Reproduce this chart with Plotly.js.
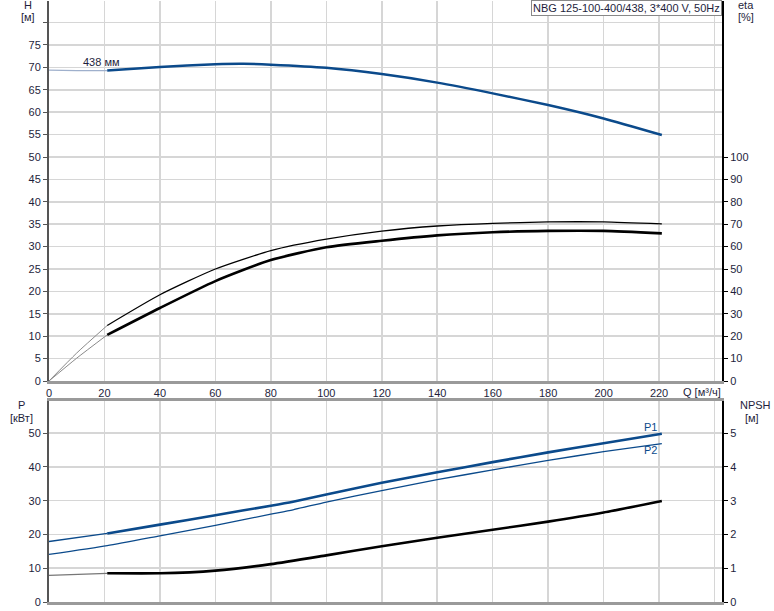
<!DOCTYPE html>
<html>
<head>
<meta charset="utf-8">
<script src="https://cdn.plot.ly/plotly-3.0.1.min.js"></script>
<style>html,body{margin:0;padding:0;background:#fff;}#chart{width:774px;height:611px;}</style>
</head>
<body>
<div id="chart"></div>
<script>
// ---- data ----
const qTicks = [0, 20, 40, 60, 80, 100, 120, 140, 160, 180, 200, 220, 240];
const qTickText = ['0', '20', '40', '60', '80', '100', '120', '140', '160', '180', '200', '220', ''];
const hTicks = [0, 5, 10, 15, 20, 25, 30, 35, 40, 45, 50, 55, 60, 65, 70, 75, 80];
const hTickText = ['0', '5', '10', '15', '20', '25', '30', '35', '40', '45', '50', '55', '60', '65', '70', '75', ''];
const etaTicks = [0, 10, 20, 30, 40, 50, 60, 70, 80, 90, 100];
const pTicks = [0, 10, 20, 30, 40, 50];
const npshTicks = [0, 1, 2, 3, 4, 5];

const qH = [0, 10, 21, 40, 60, 70, 80, 100, 120, 140, 160, 180, 200, 221];
const headH = [69.4, 69.3, 69.3, 70.1, 70.7, 70.8, 70.6, 69.9, 68.5, 66.6, 64.2, 61.6, 58.6, 54.9];

const qEta = [0, 10, 21, 40, 60, 80, 100, 120, 140, 160, 180, 200, 221];
const etaPump = [0, 12.5, 24.8, 38.5, 50.0, 58.2, 63.3, 66.9, 69.2, 70.4, 71.0, 71.0, 70.1];
const etaTotal = [0, 10.2, 20.6, 32.6, 44.6, 54.0, 59.7, 62.6, 65.0, 66.4, 67.0, 67.0, 65.9];

const qP = [0, 21, 40, 60, 80, 88, 100, 120, 140, 160, 180, 200, 221];
const powerP1 = [17.9, 20.3, 22.9, 25.7, 28.5, 29.7, 31.8, 35.3, 38.4, 41.4, 44.3, 47.0, 49.8];
const powerP2 = [14.1, 16.7, 19.6, 22.7, 26.0, 27.3, 29.6, 33.0, 36.2, 39.1, 41.9, 44.5, 46.9];

const qN = [0, 21, 40, 60, 80, 100, 120, 140, 160, 180, 200, 221];
const npsh = [0.79, 0.85, 0.85, 0.93, 1.12, 1.38, 1.65, 1.90, 2.14, 2.38, 2.65, 2.99];

const curveLabel = '438 мм';
const titleText = 'NBG 125-100-400/438, 3*400 V, 50Hz';
const splitQ = 21;

// ---- helpers ----
function seg(q, v, lo, hi) {
  const x = [], y = [];
  q.forEach((qq, i) => { if (qq >= lo && qq <= hi) { x.push(qq); y.push(v[i]); } });
  return {x, y};
}
function tr(q, v, lo, hi, xa, ya, color, width) {
  const s = seg(q, v, lo, hi);
  return {x: s.x, y: s.y, xaxis: xa, yaxis: ya, mode: 'lines', type: 'scatter',
    line: {color: color, width: width, shape: 'spline', smoothing: 0.6}, hoverinfo: 'skip', showlegend: false};
}
const BLUE = '#0b4a8b';
const L = 49, R = 722, T = 1, B = 602;
const px = x => (x - L) / (R - L);
const py = y => (B - y) / (B - T);

const data = [
  tr(qH, headH, 0, splitQ, 'x', 'y', '#9fb0cc', 1.2),
  tr(qH, headH, splitQ, 999, 'x', 'y', BLUE, 2.5),
  tr(qEta, etaPump, 0, splitQ, 'x', 'y2', '#8a8a8a', 1),
  tr(qEta, etaPump, splitQ, 999, 'x', 'y2', '#000', 1.3),
  tr(qEta, etaTotal, 0, splitQ, 'x', 'y2', '#8a8a8a', 1),
  tr(qEta, etaTotal, splitQ, 999, 'x', 'y2', '#000', 2.6),
  tr(qP, powerP1, 0, splitQ, 'x2', 'y3', BLUE, 1.3),
  tr(qP, powerP1, splitQ, 999, 'x2', 'y3', BLUE, 2.6),
  tr(qP, powerP2, 0, 999, 'x2', 'y3', BLUE, 1.3),
  tr(qN, npsh, 0, splitQ, 'x2', 'y4', '#777', 1.2),
  tr(qN, npsh, splitQ, 999, 'x2', 'y4', '#000', 2.6)
];

const FONT = {family: '"Liberation Sans", Arial, sans-serif', size: 11, color: '#1e1e3c'};
const GRID = '#d6d6d6';
const xr = [0, 242.7];

const layout = {
  width: 774, height: 611,
  margin: {l: L, r: 774 - R, t: T, b: 611 - B, pad: 0},
  paper_bgcolor: '#fff', plot_bgcolor: '#fff',
  font: FONT, showlegend: false,
  xaxis: {domain: [0, 1], anchor: 'y', range: xr, tickvals: qTicks, ticktext: qTickText,
    showgrid: true, gridcolor: GRID, gridwidth: 1.5, zeroline: false,
    showline: true, linecolor: '#9a9a9a', linewidth: 3, ticks: '', tickfont: FONT},
  yaxis: {domain: [py(381), 1], anchor: 'x', range: [0, 84.82], tickvals: hTicks, ticktext: hTickText,
    showgrid: true, gridcolor: GRID, gridwidth: 1.5, zeroline: false,
    showline: true, linecolor: '#555', linewidth: 2, ticks: 'outside', ticklen: 4, tickcolor: '#555', tickfont: FONT},
  yaxis2: {overlaying: 'y', side: 'right', anchor: 'x', range: [0, 169.64], tickvals: etaTicks,
    showgrid: false, zeroline: false, showline: true, linecolor: '#000', linewidth: 2,
    ticks: 'outside', ticklen: 4, tickcolor: '#000', tickfont: FONT},
  xaxis2: {domain: [0, 1], anchor: 'y3', range: xr, tickvals: qTicks, showticklabels: false,
    showgrid: true, gridcolor: GRID, gridwidth: 1.5, zeroline: false,
    showline: true, mirror: true, linecolor: '#9a9a9a', linewidth: 3, ticks: ''},
  yaxis3: {domain: [0, py(401)], anchor: 'x2', range: [0, 59.5], tickvals: pTicks,
    showgrid: true, gridcolor: GRID, gridwidth: 1.5, zeroline: false,
    showline: true, linecolor: '#555', linewidth: 2, ticks: 'outside', ticklen: 4, tickcolor: '#555', tickfont: FONT},
  yaxis4: {overlaying: 'y3', side: 'right', anchor: 'x2', range: [0, 5.95], tickvals: npshTicks,
    showgrid: false, zeroline: false, showline: true, linecolor: '#000', linewidth: 2,
    ticks: 'outside', ticklen: 4, tickcolor: '#000', tickfont: FONT},
  annotations: [
    {xref: 'paper', yref: 'paper', x: px(28), y: py(5), text: 'H', showarrow: false, font: FONT, xanchor: 'center', yanchor: 'middle'},
    {xref: 'paper', yref: 'paper', x: px(28), y: py(17), text: '[м]', showarrow: false, font: FONT, xanchor: 'center', yanchor: 'middle'},
    {xref: 'paper', yref: 'paper', x: px(746), y: py(5), text: 'eta', showarrow: false, font: FONT, xanchor: 'center', yanchor: 'middle'},
    {xref: 'paper', yref: 'paper', x: px(746), y: py(17), text: '[%]', showarrow: false, font: FONT, xanchor: 'center', yanchor: 'middle'},
    {xref: 'paper', yref: 'paper', x: px(22), y: py(405), text: 'P', showarrow: false, font: FONT, xanchor: 'center', yanchor: 'middle'},
    {xref: 'paper', yref: 'paper', x: px(22), y: py(418), text: '[кВт]', showarrow: false, font: FONT, xanchor: 'center', yanchor: 'middle'},
    {xref: 'paper', yref: 'paper', x: px(755), y: py(405), text: 'NPSH', showarrow: false, font: FONT, xanchor: 'center', yanchor: 'middle'},
    {xref: 'paper', yref: 'paper', x: px(752), y: py(418), text: '[м]', showarrow: false, font: FONT, xanchor: 'center', yanchor: 'middle'},
    {xref: 'paper', yref: 'paper', x: px(702), y: py(392), text: 'Q [м³/ч]', showarrow: false, font: FONT, xanchor: 'center', yanchor: 'middle'},
    {xref: 'paper', yref: 'paper', x: 1, y: py(0), text: titleText, showarrow: false, font: FONT,
      xanchor: 'right', yanchor: 'top', bgcolor: '#fff', bordercolor: '#888', borderwidth: 1, borderpad: 1},
    {xref: 'x', yref: 'y', x: 19, y: 71.2, text: curveLabel, showarrow: false, font: FONT, xanchor: 'center', yanchor: 'middle'},
    {xref: 'x2', yref: 'y3', x: 217, y: 51.9, text: 'P1', showarrow: false, font: Object.assign({}, FONT, {color: BLUE}), xanchor: 'center', yanchor: 'middle'},
    {xref: 'x2', yref: 'y3', x: 217, y: 44.9, text: 'P2', showarrow: false, font: Object.assign({}, FONT, {color: BLUE}), xanchor: 'center', yanchor: 'middle'}
  ]
};

Plotly.newPlot('chart', data, layout, {displayModeBar: false, staticPlot: true});
</script>
</body>
</html>
